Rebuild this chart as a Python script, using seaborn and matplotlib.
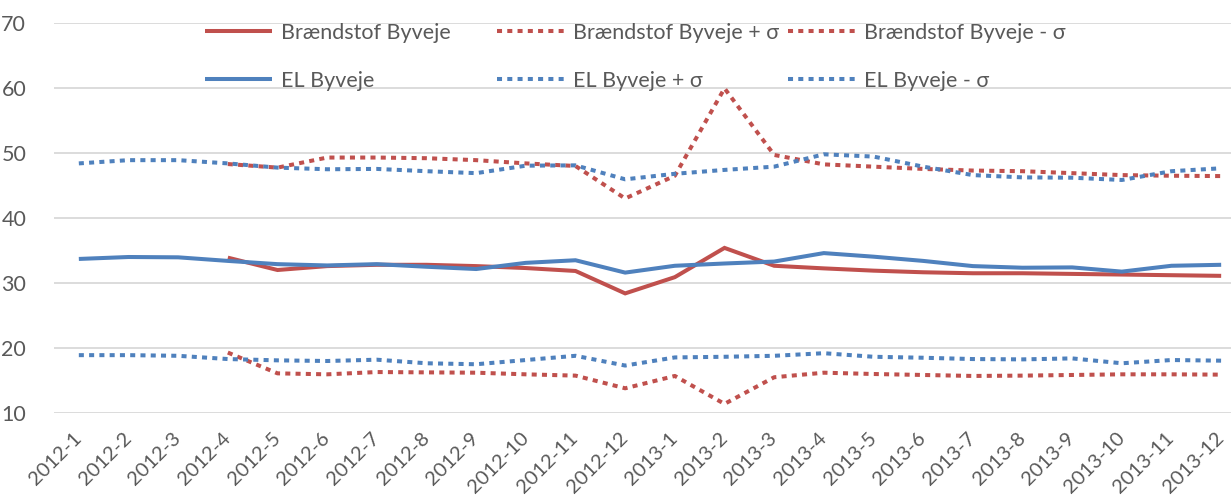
import numpy as np
import pandas as pd
import matplotlib
matplotlib.use("Agg")
import matplotlib.pyplot as plt
from matplotlib.lines import Line2D
import seaborn as sns

months = ["2012-1", "2012-2", "2012-3", "2012-4", "2012-5", "2012-6", "2012-7", "2012-8",
          "2012-9", "2012-10", "2012-11", "2012-12", "2013-1", "2013-2", "2013-3", "2013-4",
          "2013-5", "2013-6", "2013-7", "2013-8", "2013-9", "2013-10", "2013-11", "2013-12"]
nan = np.nan
fuel = [nan, nan, nan, 33.9, 32.0, 32.6, 32.8, 32.8, 32.6, 32.3, 31.85, 28.4, 30.9, 35.4,
        32.65, 32.25, 31.9, 31.65, 31.5, 31.5, 31.4, 31.3, 31.2, 31.1]
fuel_plus = [nan, nan, nan, 48.3, 47.75, 49.3, 49.3, 49.2, 48.9, 48.4, 48.0, 43.0, 46.5, 59.95,
             49.7, 48.25, 47.9, 47.55, 47.3, 47.2, 46.9, 46.6, 46.5, 46.45]
fuel_minus = [nan, nan, nan, 19.3, 16.1, 15.95, 16.3, 16.25, 16.2, 15.95, 15.75, 13.8, 15.7, 11.4,
              15.5, 16.2, 16.0, 15.85, 15.7, 15.75, 15.85, 15.95, 15.95, 15.9]
el = [33.7, 34.0, 33.95, 33.4, 32.9, 32.7, 32.9, 32.5, 32.15, 33.1, 33.5, 31.6, 32.65, 33.0,
      33.3, 34.6, 34.05, 33.4, 32.6, 32.35, 32.4, 31.75, 32.65, 32.8]
el_plus = [48.4, 48.9, 48.9, 48.4, 47.75, 47.5, 47.55, 47.2, 46.9, 48.05, 48.1, 45.95, 46.8, 47.4,
           47.9, 49.8, 49.45, 47.9, 46.6, 46.25, 46.2, 45.85, 47.2, 47.65]
el_minus = [18.9, 18.9, 18.8, 18.3, 18.1, 18.0, 18.2, 17.65, 17.5, 18.15, 18.8, 17.3, 18.55, 18.65,
            18.8, 19.2, 18.65, 18.5, 18.3, 18.25, 18.4, 17.65, 18.15, 18.05]
labels = ["Brændstof Byveje", "Brændstof Byveje + σ", "Brændstof Byveje - σ",
          "EL Byveje", "EL Byveje + σ", "EL Byveje - σ"]
yticks = [10, 20, 30, 40, 50, 60, 70]

sns.set_theme(style="white")
plt.rcParams["font.family"] = ["Lato", "DejaVu Sans"]

RED = "#C0504D"
BLUE = "#4F81BD"
GREY = "#595959"
LW = 2.9
DOT = (0, (1.25, 1.3))
FS = 15.5
XFS = 14.5

series = [fuel, fuel_plus, fuel_minus, el, el_plus, el_minus]
colors = [RED, RED, RED, BLUE, BLUE, BLUE]
styles = ["-", DOT, DOT, "-", DOT, DOT]

fig = plt.figure(figsize=(12.31, 5.0), dpi=100)
ax = fig.add_axes([54 / 1231, 87 / 500, (1246 - 54) / 1231, 390 / 500])

x = np.arange(len(months))
for vals, lab, c, ls in zip(series, labels, colors, styles):
    df = pd.DataFrame({"x": x, "y": vals}).dropna()
    sns.lineplot(data=df, x="x", y="y", ax=ax, color=c, linewidth=LW, linestyle=ls,
                 label=None, legend=False, solid_capstyle="butt", dash_capstyle="butt",
                 solid_joinstyle="miter")

ax.set_xlim(-0.5, 23.5)
ax.set_ylim(10, 70)
ax.set_yticks(yticks)
ax.set_yticklabels([str(v) for v in yticks])
ax.set_xticks(x)
ax.set_xticklabels(months, rotation=45, ha="right", va="center", rotation_mode="anchor")
ax.set_xlabel("")
ax.set_ylabel("")
ax.grid(axis="y", color="#D9D9D9", linewidth=1.3)
ax.set_axisbelow(True)
for s in ax.spines.values():
    s.set_visible(False)
ax.tick_params(axis="y", length=0, pad=20, labelsize=FS, labelcolor=GREY)
ax.tick_params(axis="x", length=0, pad=16, labelsize=XFS, labelcolor=GREY)

# legend: three columns positioned individually
col_x = [205, 497, 788]
for ci in range(3):
    hs, ls_ = [], []
    for ri in range(2):
        k = ri * 3 + ci
        hs.append(Line2D([], [], color=colors[k], linewidth=LW, linestyle=styles[k],
                         solid_capstyle="butt", dash_capstyle="butt"))
        ls_.append(labels[k])
    leg = fig.legend(hs, ls_, loc="upper left", bbox_to_anchor=(col_x[ci] / 1231, 1 - 23 / 500),
                     frameon=False, fontsize=FS, handlelength=3.1, handletextpad=0.42,
                     labelspacing=1.3, borderpad=0, borderaxespad=0, labelcolor=GREY)

fig.savefig("out.png", dpi=100)
